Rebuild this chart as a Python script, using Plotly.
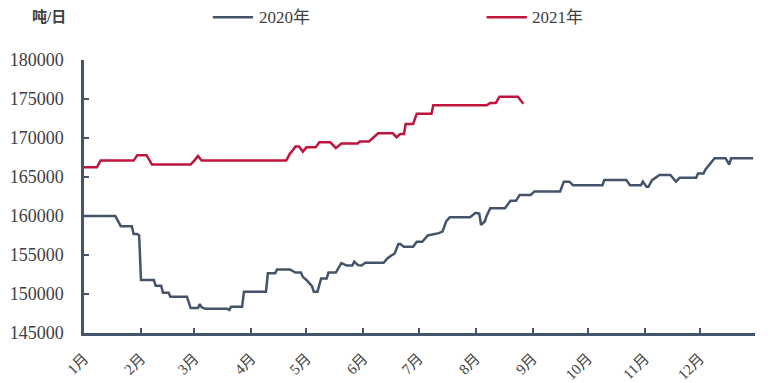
import plotly.graph_objects as go

# ---- data ----
dates_2020 = ["01-01","01-18","01-21","01-27","01-28","01-30","01-31","02-01","02-08","02-09","02-12","02-13","02-16","02-17","02-26","02-28","03-03","03-04","03-05","03-07","03-19","03-20","03-21","03-27","03-28","04-09","04-10","04-14","04-15","04-22","04-25","04-28","04-29","05-01","05-04","05-05","05-07","05-09","05-12","05-13","05-17","05-20","05-23","05-26","05-27","05-29","05-31","06-02","06-12","06-14","06-16","06-18","06-20","06-21","06-23","06-28","06-30","07-03","07-06","07-12","07-14","07-16","07-18","07-29","08-01","08-03","08-04","08-06","08-07","08-09","08-17","08-20","08-23","08-25","08-31","09-02","09-16","09-18","09-21","09-23","10-09","10-10","10-22","10-24","10-30","10-31","11-02","11-03","11-05","11-09","11-15","11-18","11-20","11-29","11-30","12-03","12-04","12-06","12-09","12-15","12-17","12-18","12-30"]
values_2020 = [160000,160000,158700,158700,157700,157700,157500,151800,151800,151050,151050,150150,150150,149650,149650,148200,148200,148700,148300,148100,148100,147950,148350,148350,150300,150300,152650,152650,153150,153150,152750,152750,152200,151800,151000,150300,150300,152000,152000,152750,152750,153950,153650,153650,154150,153700,153650,154000,154000,154550,154900,155200,156400,156400,156050,156050,156700,156700,157500,157800,158000,159300,159850,159850,160400,160300,158850,159300,160000,161000,161000,161950,161950,162700,162700,163150,163150,164400,164400,163950,163950,164600,164600,163950,163950,164400,163750,163750,164600,165250,165250,164400,164900,164900,165450,165450,165950,166550,167400,167400,166600,167400,167400]

dates_2021 = ["01-01","01-08","01-10","01-28","01-30","02-04","02-07","02-28","03-01","03-03","03-05","04-20","04-22","04-23","04-25","04-27","04-29","05-01","05-06","05-08","05-14","05-17","05-20","05-29","05-30","06-04","06-09","06-17","06-19","06-21","06-23","06-24","06-28","06-30","07-08","07-09","08-07","08-09","08-12","08-14","08-24","08-27"]
values_2021 = [166250,166250,167100,167100,167800,167800,166600,166600,167100,167700,167100,167100,168000,168250,168900,168900,168250,168800,168800,169450,169450,168700,169300,169300,169550,169550,170600,170600,170100,170500,170500,171800,171800,173100,173100,174200,174200,174500,174500,175300,175300,174400]

month_ticks = ["01-01","02-01","03-01","04-01","05-01","06-01","07-01","08-01","09-01","10-01","11-01","12-01"]
month_labels = ["1月","2月","3月","4月","5月","6月","7月","8月","9月","10月","11月","12月"]
y_ticks = [145000,150000,155000,160000,165000,170000,175000,180000]
series_names = ["2020年", "2021年"]
series_colors = ["#44546A", "#C0143C"]

BASE_YEAR = "2020-"
AXIS_COLOR = "#44546A"
TEXT_COLOR = "#404040"
FONT = "'Liberation Serif', 'Times New Roman', 'Noto Sans CJK SC', serif"

fig = go.Figure()
for name, color, ds, vs in [(series_names[0], series_colors[0], dates_2020, values_2020),
                            (series_names[1], series_colors[1], dates_2021, values_2021)]:
    fig.add_trace(go.Scatter(x=[BASE_YEAR + d for d in ds], y=vs, mode="lines",
                             name=name, line=dict(color=color, width=2.5), showlegend=False))

# manual legend (paper coordinates)
legend_pos = [(0.192, 0.252, 0.258), (0.600, 0.660, 0.664)]
shapes = []
annotations = []
for (x0, x1, xt), name, color in zip(legend_pos, series_names, series_colors):
    shapes.append(dict(type="line", xref="paper", yref="paper", x0=x0, x1=x1, y0=1.157, y1=1.157,
                       line=dict(color=color, width=2.5)))
    annotations.append(dict(text=name, xref="paper", yref="paper", x=xt, y=1.157,
                            xanchor="left", yanchor="middle", showarrow=False,
                            font=dict(family=FONT, size=17, color=TEXT_COLOR)))
annotations.append(dict(text="<b>吨/日</b>", xref="paper", yref="paper", x=-0.052, y=1.157,
                        xanchor="center", yanchor="middle", showarrow=False,
                        font=dict(family=FONT, size=15, color=TEXT_COLOR)))

fig.update_layout(
    width=779, height=383,
    margin=dict(l=84, r=24, t=60, b=50, autoexpand=False),
    paper_bgcolor="white", plot_bgcolor="white",
    font=dict(family=FONT, size=17, color=TEXT_COLOR),
    showlegend=False,
    shapes=shapes,
    annotations=annotations,
    xaxis=dict(type="date", range=[BASE_YEAR + "01-01", BASE_YEAR + "12-31"],
               tickvals=[BASE_YEAR + d for d in month_ticks], ticktext=month_labels,
               tickangle=-45, ticks="inside", ticklen=5, tickwidth=2, tickcolor=AXIS_COLOR,
               showline=True, linecolor=AXIS_COLOR, linewidth=2.5, showgrid=False, zeroline=False,
               tickfont=dict(family=FONT, size=15, color=TEXT_COLOR), ticklabelstandoff=8),
    yaxis=dict(range=[145000, 180000], tickvals=y_ticks, ticktext=[str(v) for v in y_ticks],
               ticks="inside", ticklen=5, tickwidth=2, tickcolor=AXIS_COLOR,
               showline=True, linecolor=AXIS_COLOR, linewidth=2.5, showgrid=False, zeroline=False,
               tickfont=dict(family=FONT, size=18, color=TEXT_COLOR), ticklabelstandoff=14),
)

fig.write_html("out.html")
